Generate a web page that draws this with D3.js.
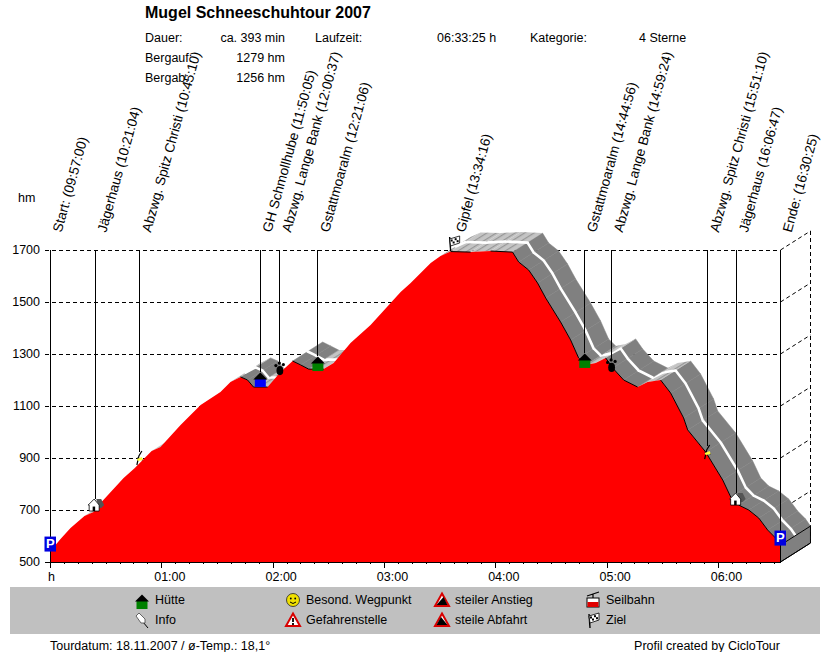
<!DOCTYPE html>
<html lang="de">
<head>
<meta charset="UTF-8">
<title>Mugel Schneeschuhtour 2007</title>
<script src="https://d3js.org/d3.v7.min.js"></script>
<style>
  html, body { margin: 0; padding: 0; background: #fff; }
  svg { display: block; }
  text { font-family: "Liberation Sans", Arial, sans-serif; font-size: 12.5px; fill: #000; }
</style>
</head>
<body>
<svg id="chart" width="830" height="652"></svg>
<script>
// profile: minutes since start / height in hm
const profileMin = [0, 5.4, 10.8, 18.3, 23.2, 27, 39.4, 45.3, 54.5, 59.3, 70.1, 80.9, 91.6, 97, 102.4, 106.2, 109.4, 117, 124, 130.5, 134.8, 139.1, 147.2, 152.6, 161.7, 172.5, 177.9, 183.3, 188.7, 194.1, 199.5, 204.9, 210.2, 215.6, 226.4, 237.2, 249, 252.3, 257.7, 262.5, 266.9, 274.9, 280.3, 284.6, 288.4, 293.8, 299.2, 303, 308.9, 316.4, 321.8, 328.8, 334.2, 341.2, 343.4, 353.1, 362.3, 366.6, 370.9, 376.3, 381.7, 386.5, 390.8, 393.4];
const profileHm = [542, 588, 631, 677, 692, 727, 823, 861, 927, 942, 1027, 1104, 1154, 1192, 1212, 1200, 1173, 1173, 1231, 1273, 1258, 1242, 1242, 1265, 1342, 1412, 1454, 1496, 1538, 1573, 1612, 1650, 1677, 1694, 1692, 1696, 1692, 1654, 1623, 1573, 1515, 1423, 1354, 1285, 1258, 1265, 1285, 1246, 1200, 1173, 1192, 1200, 1150, 1054, 1008, 923, 815, 750, 719, 700, 669, 623, 592, 565];

const markerNames = ['Start:', 'Jägerhaus', 'Abzwg. Spitz Christi', 'GH Schmollhube', 'Abzwg. Lange Bank', 'Gstattmoaralm', 'Gipfel', 'Gstattmoaralm', 'Abzwg. Lange Bank', 'Abzwg. Spitz Christi', 'Jägerhaus', 'Ende:'];
const markerTimes = ['09:57:00', '10:21:04', '10:45:10', '11:50:05', '12:00:37', '12:21:06', '13:34:16', '14:44:56', '14:59:24', '15:51:10', '16:06:47', '16:30:25'];
const markerHm = [569, 719, 900, 1208, 1246, 1269, 1727, 1281, 1258, 923, 742, 592];
const markerIcons = ['park', 'white', 'info', 'blue', 'paw', 'green', 'flag', 'green', 'paw', 'info', 'white', 'park'];

const yTicks = [500, 700, 900, 1100, 1300, 1500, 1700];
const xTicks = [60, 120, 180, 240, 300, 360];
const xTickLabels = ['01:00', '02:00', '03:00', '04:00', '05:00', '06:00'];

const infoRows = [
  ['Dauer:', 'ca. 393 min', 'Laufzeit:', '06:33:25 h', 'Kategorie:', '4 Sterne'],
  ['Bergauf:', '1279 hm'],
  ['Bergab:', '1256 hm']
];

const legendItems = [
  ['green', 'Hütte', 0, 0], ['pin', 'Info', 0, 1],
  ['smiley', 'Besond. Wegpunkt', 1, 0], ['danger', 'Gefahrenstelle', 1, 1],
  ['up', 'steiler Anstieg', 2, 0], ['down', 'steile Abfahrt', 2, 1],
  ['cable', 'Seilbahn', 3, 0], ['flag', 'Ziel', 3, 1]
];

const svg = d3.select('#chart');
const x = d3.scaleLinear().domain([0, 393.42]).range([50.5, 780.5]);
const y = d3.scaleLinear().domain([500, 1700]).range([562, 250]);
const depthX = 30, depthY = -19;

const pts = profileMin.map((m, i) => [x(m), y(profileHm[i])]);
const toMin = t => { const p = t.split(':').map(Number); return p[0] * 60 + p[1] + p[2] / 60 - 597; };

// header
svg.append('text').attr('x', 145).attr('y', 18).style('font-size', '16px').style('font-weight', 'bold').text('Mugel Schneeschuhtour 2007');
const colX = [145, 285, 315, 437, 530, 639];
infoRows.forEach((row, r) => row.forEach((t, c) => {
  svg.append('text').attr('x', colX[c]).attr('y', 42 + r * 20)
    .attr('text-anchor', c === 1 ? 'end' : 'start').text(t);
}));

// stripes for the flat parts of the surface
const defs = svg.append('defs');
const pat = defs.append('pattern').attr('id', 'flat').attr('patternUnits', 'userSpaceOnUse')
  .attr('width', 5).attr('height', 5).attr('patternTransform', 'rotate(-32)');
pat.append('rect').attr('width', 5).attr('height', 5).attr('fill', '#c4c4c4');
pat.append('rect').attr('width', 5).attr('height', 1.2).attr('fill', '#969696');

// grid + 3d frame
const grid = svg.append('g').attr('stroke', '#000').attr('fill', 'none').attr('shape-rendering', 'crispEdges');
yTicks.forEach(v => {
  if (v > 500) grid.append('line').attr('x1', 45).attr('x2', x.range()[1]).attr('y1', y(v)).attr('y2', y(v)).attr('stroke-dasharray', '4 3');
  else grid.append('line').attr('x1', 45).attr('x2', x.range()[1]).attr('y1', y(v)).attr('y2', y(v));
  svg.append('text').attr('x', 40).attr('y', y(v) + 4).attr('text-anchor', 'end').text(v);
  if (v > 500) svg.append('line').attr('x1', x.range()[1]).attr('y1', y(v)).attr('x2', x.range()[1] + depthX).attr('y2', y(v) + depthY)
    .attr('stroke', '#000').attr('stroke-dasharray', '4 3');
});
grid.append('line').attr('x1', x.range()[1] + depthX).attr('x2', x.range()[1] + depthX)
  .attr('y1', y(1700) + depthY).attr('y2', y(500) + depthY).attr('stroke-dasharray', '4 3');
svg.append('text').attr('x', 18).attr('y', 202).text('hm');

// surface, right to left so that nearer ridges cover what lies behind them
const surface = svg.append('g');
for (let i = pts.length - 2; i >= 0; i--) {
  const a = pts[i], b = pts[i + 1];
  const slope = (a[1] - b[1]) / (b[0] - a[0]); // positive = going up
  if (slope >= -depthY / depthX) continue; // faces away
  const flat = slope > -0.12;
  const col = flat ? 'url(#flat)' : (slope > -0.3 ? '#b4b4b4' : '#808080');
  surface.append('polygon')
    .attr('points', [a, b, [b[0] + depthX, b[1] + depthY], [a[0] + depthX, a[1] + depthY]].join(' '))
    .attr('fill', col).attr('stroke', col === '#808080' ? '#808080' : 'none').attr('stroke-width', 0.5);
  surface.append('line')
    .attr('x1', a[0] + depthX / 2).attr('y1', a[1] + depthY / 2)
    .attr('x2', b[0] + depthX / 2).attr('y2', b[1] + depthY / 2)
    .attr('stroke', '#fff').attr('stroke-width', 2.6).attr('stroke-linecap', 'round');
}

// end face
const last = pts[pts.length - 1];
svg.append('polygon')
  .attr('points', [last, [last[0] + depthX, last[1] + depthY], [last[0] + depthX, y(500) + depthY], [last[0], y(500)]].join(' '))
  .attr('fill', '#808080').attr('stroke', '#000');

// red profile
const area = d3.area().x(d => d[0]).y0(y(500)).y1(d => d[1]);
svg.append('path').attr('d', area(pts)).attr('fill', '#ff0000');
for (let i = 0; i < pts.length - 1; i++) {
  if (pts[i + 1][1] >= pts[i][1] - 0.5) {
    svg.append('line').attr('x1', pts[i][0]).attr('y1', pts[i][1]).attr('x2', pts[i + 1][0]).attr('y2', pts[i + 1][1])
      .attr('stroke', '#000').attr('stroke-width', 1);
  }
}

// axes lines
const axes = svg.append('g').attr('stroke', '#000').attr('shape-rendering', 'crispEdges');
axes.append('line').attr('x1', x(0)).attr('x2', x(0)).attr('y1', y(1700)).attr('y2', y(500) + 6);
axes.append('line').attr('x1', x.range()[1]).attr('x2', x.range()[1]).attr('y1', y(1700)).attr('y2', y(500));
axes.append('line').attr('x1', x.range()[1]).attr('y1', y(500)).attr('x2', x.range()[1] + depthX).attr('y2', y(500) + depthY).attr('shape-rendering', 'auto');

// time axis
d3.range(7.5, 393, 7.5).forEach(m => {
  axes.append('line').attr('x1', x(m)).attr('x2', x(m)).attr('y1', y(500)).attr('y2', y(500) + (m % 60 === 0 ? 6 : 2));
});
svg.append('text').attr('x', 48).attr('y', 581).text('h');
xTicks.forEach((m, i) => {
  svg.append('text').attr('x', x(m) + 8).attr('y', 581).attr('text-anchor', 'middle').text(xTickLabels[i]);
});

// icons, centred on 0,0
function drawIcon(g, kind) {
  if (kind === 'park') {
    g.append('rect').attr('x', -6).attr('y', -7.5).attr('width', 11.5).attr('height', 15).attr('fill', '#0000e0');
    g.append('text').attr('x', -0.2).attr('y', 4).attr('text-anchor', 'middle').style('font-size', '13px').style('font-weight', 'bold').style('fill', '#fff').text('P');
  } else if (kind === 'green' || kind === 'blue') {
    g.append('rect').attr('x', -5.5).attr('y', 1).attr('width', 11).attr('height', 8).attr('fill', kind === 'green' ? '#008000' : '#0000ff');
    g.append('path').attr('d', 'M-7,1.5 L0,-5.5 L7,1.5 Z').attr('fill', '#000');
  } else if (kind === 'white') {
    g.append('path').attr('d', 'M1,-6 L6,-6 L9,0 L6,3 L4,3 Z').attr('fill', '#555');
    g.append('path').attr('d', 'M-7,0 L-1,-6 L4,0 L4,6 L-6,6 L-6,0 Z').attr('fill', '#fff').attr('stroke', '#000').attr('stroke-width', 0.8);
    g.append('rect').attr('x', -2.5).attr('y', 1.5).attr('width', 2.5).attr('height', 4.5).attr('fill', '#000');
  } else if (kind === 'info') {
    g.append('path').attr('d', 'M2,-7 L-1,-2 L-3,7 M-3,0 L3,2').attr('stroke', '#000').attr('stroke-width', 1.2).attr('fill', 'none');
    g.append('path').attr('d', 'M-3,1 L2,-1 L3,2 L-2,3 Z').attr('fill', '#ffff40');
  } else if (kind === 'pin') {
    g.append('path').attr('d', 'M1,2 L6,8').attr('stroke', '#000').attr('stroke-width', 1).attr('fill', 'none');
    g.append('path').attr('d', 'M-6,-4 L-3,-7 L3,-1 L3,3 L-1,3 Z').attr('fill', '#fff').attr('stroke', '#444').attr('stroke-width', 0.8);
  } else if (kind === 'paw') {
    g.append('ellipse').attr('cx', 0).attr('cy', 2.5).attr('rx', 3.4).attr('ry', 4.6).attr('fill', '#000');
    [[-4, -2.5], [-0.5, -5], [3.5, -3.5]].forEach(p => g.append('circle').attr('cx', p[0]).attr('cy', p[1]).attr('r', 1.6).attr('fill', '#000'));
  } else if (kind === 'flag') {
    g.append('line').attr('x1', -3).attr('y1', 8).attr('x2', -4).attr('y2', -6).attr('stroke', '#000').attr('stroke-width', 1.4);
    g.append('path').attr('d', 'M-4,-4 L6,-7 L6,0 L-3,3 Z').attr('fill', '#fff').attr('stroke', '#000').attr('stroke-width', 0.8);
    [[-3, -3.5], [1, -4.8], [-1, -1.5], [3, -2.8]].forEach(p => g.append('rect').attr('x', p[0]).attr('y', p[1]).attr('width', 2).attr('height', 2).attr('fill', '#000'));
  } else if (kind === 'smiley') {
    g.append('circle').attr('r', 6.5).attr('fill', '#f0e000').attr('stroke', '#222').attr('stroke-width', 0.8);
    g.append('circle').attr('cx', -2.2).attr('cy', -1.5).attr('r', 0.9).attr('fill', '#000');
    g.append('circle').attr('cx', 2.2).attr('cy', -1.5).attr('r', 0.9).attr('fill', '#000');
    g.append('path').attr('d', 'M-3,2 Q0,5 3,2').attr('stroke', '#000').attr('fill', 'none');
  } else if (kind === 'danger' || kind === 'up' || kind === 'down') {
    g.append('path').attr('d', 'M0,-6.5 L7,6 L-7,6 Z').attr('fill', '#fff').attr('stroke', '#d80000').attr('stroke-width', 2);
    if (kind === 'danger') g.append('path').attr('d', 'M0,-2 L0,2 M0,3 L0,5').attr('stroke', '#000').attr('stroke-width', 1.8);
    if (kind === 'up') g.append('path').attr('d', 'M-5.5,5 L1.5,-3 L5.5,5 Z').attr('fill', '#000');
    if (kind === 'down') g.append('path').attr('d', 'M-5.5,5 L-1,-3 L5.5,5 Z').attr('fill', '#000');
  } else if (kind === 'cable') {
    g.append('path').attr('d', 'M-6,-4 L6,-8 M0,-6 L0,-2').attr('stroke', '#000').attr('stroke-width', 1.2).attr('fill', 'none');
    g.append('rect').attr('x', -6).attr('y', -2).attr('width', 12).attr('height', 9).attr('fill', '#fff').attr('stroke', '#000');
    g.append('rect').attr('x', -5.5).attr('y', 2).attr('width', 11).attr('height', 5).attr('fill', '#e00000');
  }
}

// markers: stem, icon and slanted label
markerNames.forEach((name, i) => {
  const mx = x(toMin(markerTimes[i]));
  const my = y(markerHm[i]);
  if (markerIcons[i] !== 'flag') {
    svg.append('line').attr('x1', mx).attr('x2', mx).attr('y1', y(1700)).attr('y2', my - 6)
      .attr('stroke', '#000').attr('shape-rendering', 'crispEdges');
  }
  drawIcon(svg.append('g').attr('transform', `translate(${mx},${my})`), markerIcons[i]);
  svg.append('text').attr('transform', `translate(${mx + 11},233) rotate(-74.5)`)
    .style('font-size', '13.6px').text(`${name} (${markerTimes[i]})`);
});

// legend
svg.append('rect').attr('x', 10).attr('y', 587).attr('width', 810).attr('height', 47).attr('fill', '#c0c0c0');
const legIconX = [142, 293, 442, 593];
legendItems.forEach(d => {
  const ly = 600 + d[3] * 20;
  drawIcon(svg.append('g').attr('transform', `translate(${legIconX[d[2]]},${ly})`), d[0]);
  svg.append('text').attr('x', legIconX[d[2]] + 13).attr('y', ly + 4).text(d[1]);
});

// footer
svg.append('text').attr('x', 50).attr('y', 650).text('Tourdatum: 18.11.2007  /  ø-Temp.: 18,1°');
svg.append('text').attr('x', 780).attr('y', 650).attr('text-anchor', 'end').text('Profil created by CicloTour');
</script>
</body>
</html>
